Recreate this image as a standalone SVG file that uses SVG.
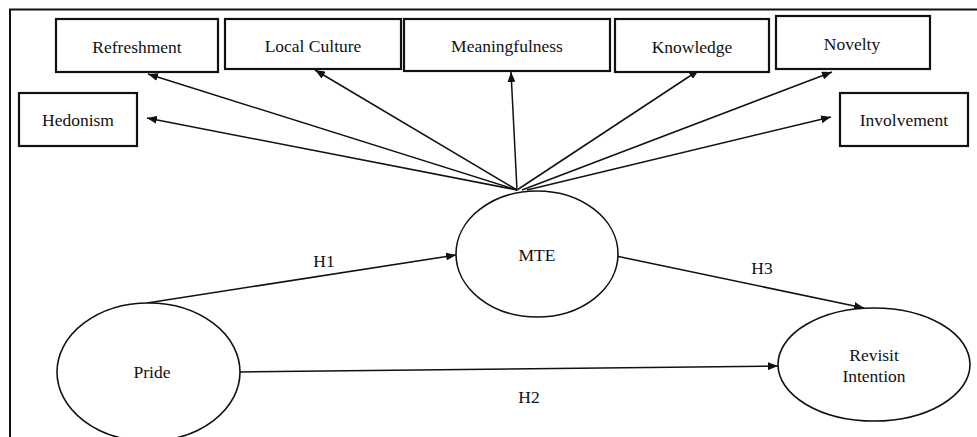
<svg xmlns="http://www.w3.org/2000/svg" width="977" height="437" viewBox="0 0 977 437">
<style>
text{font-family:"Liberation Serif","Times New Roman",serif;font-size:17.5px;fill:#111;text-anchor:middle}
.box{fill:#fff;stroke:#111;stroke-width:2.2}
.ell{fill:#fff;stroke:#111;stroke-width:1.6}
.con{stroke:#111;stroke-width:1.5;fill:none;marker-end:url(#ah)}
</style>
<defs>
<marker id="ah" viewBox="0 0 10 8" refX="10" refY="4" markerWidth="10" markerHeight="8" markerUnits="userSpaceOnUse" orient="auto">
<path d="M0,0 L10,4 L0,8 Z" fill="#111"/>
</marker>
</defs>
<rect width="977" height="437" fill="#fff"/>
<path d="M10,437 V9.5 H977" fill="none" stroke="#111" stroke-width="2"/>
<g id="connectors">
<line class="con" x1="517" y1="190" x2="147" y2="118"/>
<line class="con" x1="517" y1="190" x2="148" y2="74"/>
<line class="con" x1="517" y1="190" x2="315" y2="70"/>
<line class="con" x1="517" y1="190" x2="511" y2="72"/>
<line class="con" x1="517" y1="190" x2="699" y2="70"/>
<line class="con" x1="522" y1="190" x2="832" y2="72"/>
<line class="con" x1="527" y1="190" x2="831" y2="117"/>
<line class="con" x1="147" y1="303" x2="456" y2="255"/>
<line class="con" x1="240" y1="372" x2="778" y2="366"/>
<line class="con" x1="616" y1="256" x2="864" y2="308"/>
<text x="324" y="267">H1</text>
<text x="529" y="403">H2</text>
<text x="762" y="274">H3</text>
</g>
<g id="refreshment"><rect class="box" x="56" y="19" width="162" height="53"/><text x="137" y="53">Refreshment</text></g>
<g id="local-culture"><rect class="box" x="225" y="19" width="176" height="50"/><text x="313" y="52">Local Culture</text></g>
<g id="meaningfulness"><rect class="box" x="404" y="19" width="206" height="52"/><text x="507" y="52">Meaningfulness</text></g>
<g id="knowledge"><rect class="box" x="615" y="19" width="154" height="53"/><text x="692" y="53">Knowledge</text></g>
<g id="novelty"><rect class="box" x="776" y="16" width="154" height="53"/><text x="852" y="50">Novelty</text></g>
<g id="hedonism"><rect class="box" x="19" y="93" width="118" height="53"/><text x="78" y="126">Hedonism</text></g>
<g id="involvement"><rect class="box" x="840" y="93" width="128" height="53"/><text x="904" y="126">Involvement</text></g>
<g id="mte"><ellipse class="ell" cx="537" cy="254" rx="81" ry="63"/><text x="537" y="261">MTE</text></g>
<g id="pride"><ellipse class="ell" cx="148.5" cy="372" rx="91.5" ry="69"/><text x="152" y="378">Pride</text></g>
<g id="revisit-intention"><ellipse class="ell" cx="874" cy="364.5" rx="96" ry="56.5"/><text x="874" y="361">Revisit</text><text x="874" y="382">Intention</text></g>
</svg>
